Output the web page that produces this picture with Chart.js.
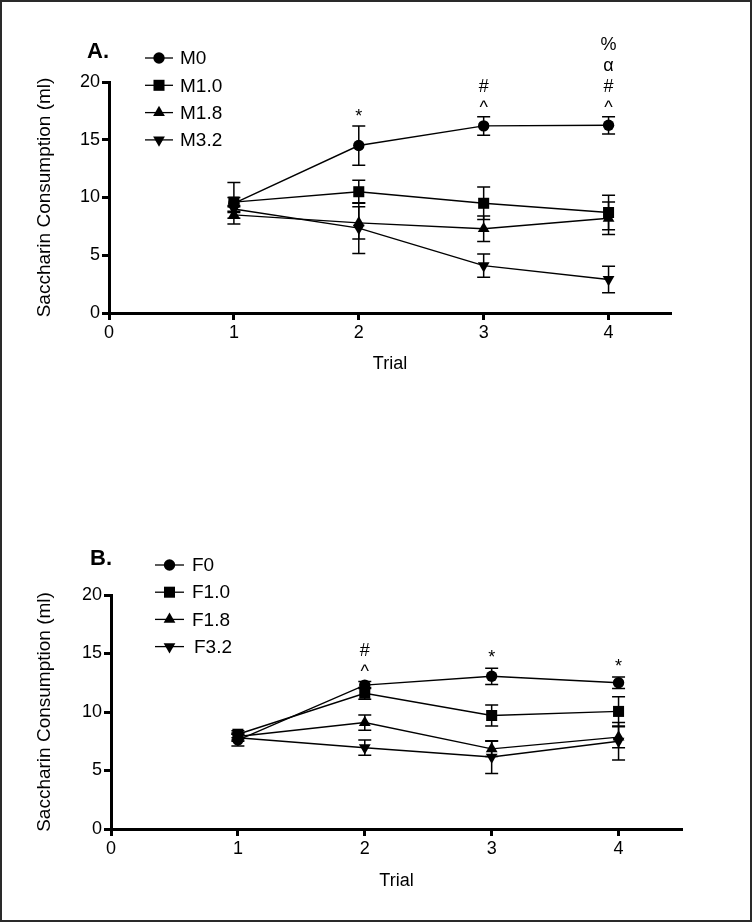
<!DOCTYPE html>
<html><head><meta charset="utf-8">
<script src="https://cdn.jsdelivr.net/npm/chart.js@4/dist/chart.umd.min.js"></script>
<style>
html,body{margin:0;padding:0;background:#fff;}
#wrap{position:relative;width:752px;height:924px;overflow:hidden;background:#fff;}
#frame{position:absolute;left:0;top:0;width:748px;height:918px;border:2px solid #2a2a2a;}
.cv{position:absolute;left:0;}
</style></head><body>
<div id="wrap">
<div id="frame"></div>
<div class="cv" style="top:0px"><canvas id="cA" width="752" height="400" style="width:752px;height:400px"></canvas></div>
<div class="cv" style="top:460px"><canvas id="cB" width="752" height="464" style="width:752px;height:464px"></canvas></div>
</div>
<script>
// ---- data ----
const trials = [1, 2, 3, 4];
const xTickValues = [0, 1, 2, 3, 4];
const yTickValues = [0, 5, 10, 15, 20];

// Panel A (males)
const namesA = ['M0', 'M1.0', 'M1.8', 'M3.2'];
const m0   = [9.5, 14.5, 16.2, 16.25];
const m0Err = [1.8, 1.7, 0.8, 0.75];
const m10  = [9.6, 10.5, 9.5, 8.7];
const m10Err = [0.4, 1.0, 1.4, 1.5];
const m18  = [8.5, 7.8, 7.3, 8.2];
const m18Err = [0.3, 1.4, 1.1, 1.4];
const m32  = [9.0, 7.35, 4.1, 2.9];
const m32Err = [0.3, 2.2, 1.0, 1.15];
const annotA = [
  { trial: 2, series: 0, lines: ['*'] },
  { trial: 3, series: 0, lines: ['^', '#'] },
  { trial: 4, series: 0, lines: ['^', '#', 'α', '%'] }
];

// Panel B (females)
const namesB = ['F0', 'F1.0', 'F1.8', 'F3.2'];
const f0   = [7.6, 12.3, 13.05, 12.5];
const f0Err = [0.5, 0.3, 0.7, 0.5];
const f10  = [8.1, 11.6, 9.7, 10.05];
const f10Err = [0.3, 0.5, 0.9, 1.25];
const f18  = [7.9, 9.1, 6.85, 7.85];
const f18Err = [0.3, 0.65, 0.65, 0.9];
const f32  = [7.8, 6.95, 6.15, 7.5];
const f32Err = [0.3, 0.65, 1.4, 1.6];
const annotB = [
  { trial: 2, series: 0, lines: ['^', '#'] },
  { trial: 3, series: 0, lines: ['*'] },
  { trial: 4, series: 0, lines: ['*'] }
];

// ---- styles ----
const FONT = 'Liberation Sans, Arial, Helvetica, sans-serif';
Chart.defaults.font.family = FONT;
Chart.defaults.color = '#000';
const markerStyles = [
  { pointStyle: 'circle', radius: 5.7, rotation: 0 },
  { pointStyle: 'rect', radius: 7.8, rotation: 0 },
  { pointStyle: 'triangle', radius: 6.8, rotation: 0 },
  { pointStyle: 'triangle', radius: 6.8, rotation: 180 }
];

function makeDatasets(names, vals, errs) {
  return names.map((n, k) => ({
    label: n,
    data: trials.map((t, i) => ({ x: t, y: vals[k][i] })),
    err: errs[k],
    borderColor: '#000',
    borderWidth: 1.4,
    backgroundColor: '#000',
    pointStyle: markerStyles[k].pointStyle,
    pointRadius: markerStyles[k].radius,
    pointRotation: markerStyles[k].rotation,
    pointBackgroundColor: '#000',
    pointBorderColor: '#000',
    pointBorderWidth: 0,
    pointHoverRadius: markerStyles[k].radius,
    tension: 0,
    fill: false
  }));
}

const errorBars = {
  id: 'errorBars',
  afterDatasetsDraw(chart) {
    const { ctx } = chart;
    const x = chart.scales.x, y = chart.scales.y;
    ctx.save();
    ctx.strokeStyle = '#000';
    ctx.lineWidth = 1.5;
    chart.data.datasets.forEach(ds => {
      ds.data.forEach((p, i) => {
        const e = ds.err[i];
        const px = x.getPixelForValue(p.x);
        const top = y.getPixelForValue(p.y + e);
        const bot = y.getPixelForValue(p.y - e);
        const w = 6.5;
        ctx.beginPath();
        ctx.moveTo(px, top); ctx.lineTo(px, bot);
        ctx.moveTo(px - w, top); ctx.lineTo(px + w, top);
        ctx.moveTo(px - w, bot); ctx.lineTo(px + w, bot);
        ctx.stroke();
      });
    });
    ctx.restore();
  }
};

const decor = {
  id: 'decor',
  afterDraw(chart, args, opts) {
    const { ctx } = chart;
    const x = chart.scales.x, y = chart.scales.y;
    ctx.save();
    // panel letter
    ctx.fillStyle = '#000';
    ctx.font = 'bold 22px ' + FONT;
    ctx.textAlign = 'left';
    ctx.textBaseline = 'alphabetic';
    ctx.fillText(opts.letter, opts.letterX, opts.letterY);
    // legend
    chart.data.datasets.forEach((ds, k) => {
      const ly = opts.legendY + k * opts.legendGap;
      ctx.strokeStyle = '#000';
      ctx.lineWidth = 1.3;
      ctx.beginPath();
      ctx.moveTo(opts.legendX, ly);
      ctx.lineTo(opts.legendX + opts.legendLine, ly);
      ctx.stroke();
      ctx.fillStyle = '#000';
      Chart.helpers.drawPoint(ctx, {
        pointStyle: ds.pointStyle, radius: ds.pointRadius,
        rotation: ds.pointRotation, borderWidth: 0
      }, opts.legendX + opts.legendLine / 2, ly);
      ctx.font = '19px ' + FONT;
      ctx.textBaseline = 'middle';
      ctx.textAlign = 'left';
      ctx.fillText(ds.label, opts.legendX + opts.legendLine + opts.textGap + (k === 3 ? opts.lastShift : 0), ly + 1);
    });
    // significance marks
    ctx.font = '18px ' + FONT;
    ctx.textAlign = 'center';
    ctx.textBaseline = 'alphabetic';
    opts.annot.forEach(a => {
      const ds = chart.data.datasets[a.series];
      const i = trials.indexOf(a.trial);
      const topPx = y.getPixelForValue(ds.data[i].y + ds.err[i]);
      const px = x.getPixelForValue(a.trial);
      a.lines.forEach((s, j) => {
        ctx.fillText(s, px, topPx - opts.annotGap - j * 21);
      });
    });
    ctx.restore();
  }
};

function makeChart(id, names, vals, errs, annot, cfg) {
  return new Chart(document.getElementById(id), {
    type: 'line',
    data: { datasets: makeDatasets(names, vals, errs) },
    plugins: [errorBars, decor],
    options: {
      responsive: false,
      animation: false,
      devicePixelRatio: 1,
      layout: { padding: { top: cfg.top, right: cfg.right, left: 0, bottom: 0 } },
      plugins: {
        legend: { display: false },
        tooltip: { enabled: false },
        decor: Object.assign({ annot: annot }, cfg.decor)
      },
      scales: {
        x: {
          type: 'linear', min: 0, max: 4.5,
          afterBuildTicks: s => { s.ticks = xTickValues.map(v => ({ value: v })); },
          ticks: { color: '#000', font: { size: 18 }, padding: 2, autoSkip: false, maxRotation: 0 },
          grid: { display: true, drawOnChartArea: false, drawTicks: true, tickLength: 7, tickWidth: 3, tickColor: '#000', color: '#000' },
          border: { display: true, color: '#000', width: 3 },
          title: { display: true, text: 'Trial', color: '#000', font: { size: 18 }, padding: { top: 0, bottom: cfg.xTitlePad } },
          afterFit: s => { s.height = cfg.xHeight; }
        },
        y: {
          type: 'linear', min: 0, max: 20,
          afterBuildTicks: s => { s.ticks = yTickValues.map(v => ({ value: v })); },
          ticks: { color: '#000', font: { size: 18 }, padding: 2 },
          grid: { display: true, drawOnChartArea: false, drawTicks: true, tickLength: 7, tickWidth: 3, tickColor: '#000', color: '#000' },
          border: { display: true, color: '#000', width: 3 },
          title: { display: true, text: 'Saccharin Consumption (ml)', color: '#000', font: { size: 19 }, padding: { top: 33, bottom: 0 } },
          afterFit: s => { s.width = cfg.yWidth; }
        }
      }
    }
  });
}

makeChart('cA', namesA, [m0, m10, m18, m32], [m0Err, m10Err, m18Err, m32Err], annotA, {
  top: 82, right: 81, xHeight: 87, yWidth: 109, xTitlePad: 25,
  decor: { letter: 'A.', letterX: 87, letterY: 58, legendX: 145, legendY: 58, legendGap: 27.3, legendLine: 28, textGap: 7, lastShift: 0, annotGap: 4 }
});
makeChart('cB', namesB, [f0, f10, f18, f32], [f0Err, f10Err, f18Err, f32Err], annotB, {
  top: 135, right: 70, xHeight: 95, yWidth: 111, xTitlePad: 32,
  decor: { letter: 'B.', letterX: 90, letterY: 105, legendX: 155, legendY: 105, legendGap: 27.2, legendLine: 29, textGap: 8, lastShift: 2, annotGap: 5 }
});
</script>
</body></html>
